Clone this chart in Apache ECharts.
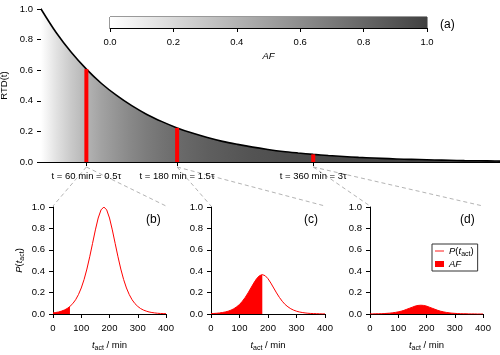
<!DOCTYPE html>
<html>
<head>
<meta charset="utf-8">
<script src="https://cdn.jsdelivr.net/npm/echarts@6/dist/echarts.min.js"></script>
<style>
  html, body { margin: 0; padding: 0; background: #fff; }
  #chart { width: 500px; height: 355px; }
</style>
</head>
<body>
<div id="chart"></div>
<script>
// panel (a): residence time distribution, t in min
var rtdT = [0, 20, 40, 60, 80, 100, 120, 140, 160, 180, 200, 220, 240, 260, 280, 300,
  320, 340, 360, 380, 400, 420, 440, 460, 480, 500, 520, 540, 560, 580, 600, 607];
var rtdV = [1.000, 0.846, 0.717, 0.607, 0.513, 0.435, 0.368, 0.311, 0.264, 0.223, 0.189,
  0.160, 0.135, 0.115, 0.097, 0.082, 0.069, 0.059, 0.050, 0.042, 0.036, 0.030, 0.026,
  0.022, 0.018, 0.016, 0.013, 0.011, 0.009, 0.008, 0.007, 0.006];

// the three selected times (red bars)
var markT = [60, 180, 360];
var markV = [0.607, 0.223, 0.050];
var markLabels = ['t = 60 min = 0.5τ', 't = 180 min = 1.5τ', 't = 360 min = 3τ'];

// panels (b)-(d): P(t_act), t_act in min
var tAct = [0, 10, 20, 30, 40, 50, 60, 70, 80, 90, 100, 110, 120, 130, 140, 150, 160, 170,
  180, 190, 200, 210, 220, 230, 240, 250, 260, 270, 280, 290, 300, 310, 320, 330, 340, 350,
  360, 370, 380, 390, 400];
var pB = [0.010, 0.014, 0.019, 0.027, 0.037, 0.051, 0.071, 0.097, 0.133, 0.181, 0.243,
  0.322, 0.420, 0.535, 0.660, 0.786, 0.897, 0.973, 1.000, 0.973, 0.897, 0.786, 0.660,
  0.535, 0.420, 0.322, 0.243, 0.181, 0.133, 0.097, 0.071, 0.051, 0.037, 0.027, 0.019,
  0.014, 0.010, 0.007, 0.005, 0.004, 0.003];
var pC = [0.004, 0.005, 0.007, 0.010, 0.014, 0.019, 0.026, 0.036, 0.049, 0.067, 0.089,
  0.119, 0.155, 0.197, 0.243, 0.289, 0.330, 0.358, 0.368, 0.358, 0.330, 0.289, 0.243,
  0.197, 0.155, 0.119, 0.089, 0.067, 0.049, 0.036, 0.026, 0.019, 0.014, 0.010, 0.007,
  0.005, 0.004, 0.003, 0.002, 0.001, 0.001];
var pD = [0.001, 0.001, 0.002, 0.002, 0.003, 0.004, 0.006, 0.008, 0.011, 0.015, 0.020,
  0.026, 0.034, 0.044, 0.054, 0.064, 0.074, 0.080, 0.082, 0.080, 0.074, 0.064, 0.054,
  0.044, 0.034, 0.026, 0.020, 0.015, 0.011, 0.008, 0.006, 0.004, 0.003, 0.002, 0.002,
  0.001, 0.001, 0.001, 0.000, 0.000, 0.000];
var panelP = [pB, pC, pD];

var FONT = '"Liberation Sans", Arial, sans-serif';
var FS = 9.5;
var red = '#ff0000';

function gray(af) {
  var g = Math.round(255 - 190 * af);
  return 'rgb(' + g + ',' + g + ',' + g + ')';
}
function pairs(xs, ys, maxX) {
  var out = [];
  for (var i = 0; i < xs.length; i++) {
    if (maxX === undefined || xs[i] <= maxX) out.push([xs[i], ys[i]]);
  }
  return out;
}

// gradient under the RTD curve, AF = 1 - RTD
var xMax = rtdT[rtdT.length - 1];
var stops = rtdT.map(function (t, i) {
  return { offset: t / xMax, color: gray(1 - rtdV[i]) };
});

var rich = {
  i: { fontStyle: 'italic', fontSize: FS, lineHeight: 14, fontFamily: FONT, color: '#000' },
  n: { fontSize: FS, lineHeight: 14, fontFamily: FONT, color: '#000' },
  s: { fontSize: 7, lineHeight: 8, verticalAlign: 'bottom', fontFamily: FONT, color: '#000' }
};
var labelStyle = { color: '#000', fontSize: FS, fontFamily: FONT };
var axisLine = { show: true, lineStyle: { color: '#000', width: 1 } };
var tick = { show: true, length: 4, lineStyle: { color: '#000' } };

var grids = [
  { left: 41, top: 9, width: 459, height: 153 },
  { left: 110, top: 17, width: 317, height: 11, show: true, borderColor: '#333', borderWidth: 1 },
  { left: 53, top: 207, width: 113, height: 107 },
  { left: 211, top: 207, width: 114, height: 107 },
  { left: 370, top: 207, width: 113, height: 107 }
];
grids.forEach(function (g) { g.containLabel = false; g.outerBoundsMode = 'none'; });

var xAxes = [
  {
    gridIndex: 0, type: 'value', min: 0, max: xMax,
    axisLine: axisLine, splitLine: { show: false },
    axisTick: { show: true, length: 4, customValues: markT, lineStyle: { color: '#000' } },
    axisLabel: {
      customValues: markT, margin: 9, color: '#000', fontSize: FS, fontFamily: FONT,
      formatter: function (v) { var k = markT.indexOf(v); return k >= 0 ? markLabels[k] : ''; }
    }
  },
  {
    gridIndex: 1, type: 'value', min: 0, max: 1, interval: 0.2,
    axisLine: axisLine, splitLine: { show: false }, axisTick: tick,
    axisLabel: Object.assign({ margin: 9, formatter: function (v) { return v.toFixed(1); } }, labelStyle),
    name: 'AF', nameLocation: 'middle', nameGap: 23,
    nameTextStyle: { fontStyle: 'italic', fontSize: FS, fontFamily: FONT, color: '#000' }
  }
];
var yAxes = [
  {
    gridIndex: 0, type: 'value', min: 0, max: 1, interval: 0.2,
    axisLine: axisLine, splitLine: { show: false }, axisTick: tick,
    axisLabel: Object.assign({ margin: 8, formatter: function (v) { return v.toFixed(1); } }, labelStyle),
    name: 'RTD(t)', nameLocation: 'middle', nameGap: 28,
    nameTextStyle: { fontSize: FS, fontFamily: FONT, color: '#000' }
  },
  { gridIndex: 1, type: 'value', min: 0, max: 1, show: false }
];

var series = [
  {
    type: 'line', xAxisIndex: 1, yAxisIndex: 1, symbol: 'none', silent: true,
    data: [[0, 1], [1, 1]], lineStyle: { width: 0 },
    areaStyle: { opacity: 1, color: new echarts.graphic.LinearGradient(0, 0, 1, 0, [
      { offset: 0, color: gray(0) }, { offset: 1, color: gray(1) }]) }
  },
  {
    type: 'line', xAxisIndex: 0, yAxisIndex: 0, symbol: 'none', smooth: 0.3, z: 3,
    data: pairs(rtdT, rtdV),
    lineStyle: { color: '#000', width: 1.6 },
    areaStyle: { opacity: 1, color: new echarts.graphic.LinearGradient(0, 0, 1, 0, stops) }
  },
  {
    type: 'bar', xAxisIndex: 0, yAxisIndex: 0, barWidth: 4, z: 4,
    itemStyle: { color: red }, data: pairs(markT, markV)
  }
];

for (var k = 0; k < 3; k++) {
  var gi = k + 2;
  xAxes.push({
    gridIndex: gi, type: 'value', min: 0, max: 400, interval: 100,
    axisLine: axisLine, splitLine: { show: false }, axisTick: tick,
    axisLabel: Object.assign({ margin: 9 }, labelStyle),
    name: '{i|t}{s|act}{n| / min}', nameLocation: 'middle', nameGap: 24,
    nameTextStyle: { rich: rich }
  });
  yAxes.push({
    gridIndex: gi, type: 'value', min: 0, max: 1, interval: 0.2,
    axisLine: axisLine, splitLine: { show: false }, axisTick: tick,
    axisLabel: Object.assign({ margin: 8, formatter: function (v) { return v.toFixed(1); } }, labelStyle),
    name: k === 0 ? '{i|P}{n|(}{i|t}{s|act}{n|)}' : '', nameLocation: 'middle', nameGap: 27,
    nameTextStyle: { rich: rich }
  });
  series.push({
    name: 'AF', type: 'line', xAxisIndex: gi, yAxisIndex: gi, symbol: 'none',
    data: pairs(tAct, panelP[k], markT[k]), lineStyle: { width: 0 },
    itemStyle: { color: red }, areaStyle: { color: red, opacity: 1 }
  });
  series.push({
    name: 'P', type: 'line', xAxisIndex: gi, yAxisIndex: gi, symbol: 'none',
    data: pairs(tAct, panelP[k]), itemStyle: { color: red },
    lineStyle: { color: red, width: 1 }
  });
}

var texts = [
  { type: 'text', left: 440, top: 19, style: { text: '(a)', font: '12px ' + FONT, fill: '#000' } },
  { type: 'text', left: 146, top: 214, style: { text: '(b)', font: '12px ' + FONT, fill: '#000' } },
  { type: 'text', left: 304, top: 214, style: { text: '(c)', font: '12px ' + FONT, fill: '#000' } },
  { type: 'text', left: 460, top: 214, style: { text: '(d)', font: '12px ' + FONT, fill: '#000' } }
];

var chart = echarts.init(document.getElementById('chart'), null, { renderer: 'canvas' });
chart.setOption({
  animation: false,
  backgroundColor: '#fff',
  textStyle: { fontFamily: FONT },
  grid: grids,
  xAxis: xAxes,
  yAxis: yAxes,
  legend: {
    left: 432, top: 244, orient: 'vertical',
    borderColor: '#333', borderWidth: 1, padding: [2, 4, 2, 3],
    itemGap: 1, itemWidth: 9, itemHeight: 6,
    data: [
      { name: 'P', icon: 'path://M0,0L16,0L16,1.6L0,1.6Z' },
      { name: 'AF', icon: 'rect' }
    ],
    formatter: function (name) {
      return name === 'P' ? '{i|P}{n|(}{i|t}{s|act}{n|)}' : '{i|AF}';
    },
    textStyle: { rich: rich }
  },
  series: series,
  graphic: texts
});

// dashed connectors from each selected time to the top corners of its panel
var lines = [];
for (var j = 0; j < 3; j++) {
  var from = chart.convertToPixel({ gridIndex: 0 }, [markT[j], 0]);
  var c1 = chart.convertToPixel({ gridIndex: j + 2 }, [0, 1]);
  var c2 = chart.convertToPixel({ gridIndex: j + 2 }, [400, 1]);
  [c1, c2].forEach(function (c) {
    lines.push({
      type: 'line', z: 0, silent: true,
      shape: { x1: from[0], y1: from[1] + 5, x2: c[0], y2: c[1] - 1 },
      style: { stroke: '#b4b4b4', lineWidth: 1, lineDash: [4, 3] }
    });
  });
}
chart.setOption({ graphic: texts.concat(lines) });
</script>
</body>
</html>
